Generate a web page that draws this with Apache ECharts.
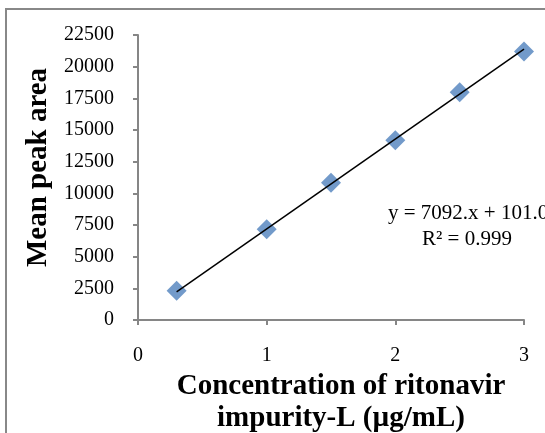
<!DOCTYPE html>
<html>
<head>
<meta charset="utf-8">
<script src="https://cdn.jsdelivr.net/npm/echarts@6/dist/echarts.min.js"></script>
<style>html,body{margin:0;padding:0;background:#fff;}#chart{width:545px;height:433px;}</style>
</head>
<body>
<div id="chart"></div>
<script>
var concentrations = [0.3, 1, 1.5, 2, 2.5, 3];
var peakAreas = [2300, 7160, 10840, 14200, 17980, 21200];
var trendSlope = 7092;
var trendIntercept = 101.0;
var trendX = [0.3, 3];
var yTicks = [0, 2500, 5000, 7500, 10000, 12500, 15000, 17500, 20000, 22500];
var xTicks = [0, 1, 2, 3];
var equationText = 'y = 7092.x + 101.0';
var r2Text = 'R² = 0.999';
var xTitle = 'Concentration of ritonavir\nimpurity-L (µg/mL)';
var yTitle = 'Mean peak area';

var serif = '"Liberation Serif", "Times New Roman", serif';
var chart = echarts.init(document.getElementById('chart'));
var trendData = trendX.map(function (x) { return [x, trendSlope * x + trendIntercept]; });
var option = {
  animation: false,
  grid: { left: 138, right: 21, top: 35, bottom: 113, containLabel: false, outerBoundsMode: 'none' },
  xAxis: {
    type: 'value', min: xTicks[0], max: xTicks[xTicks.length - 1], interval: 1,
    splitLine: { show: false },
    axisLine: { lineStyle: { color: '#868686', width: 2 } },
    axisTick: { show: true, length: 5, lineStyle: { color: '#868686', width: 2 } },
    axisLabel: { color: '#000', fontFamily: serif, fontSize: 20, margin: 26,
      formatter: function (v) { return String(v); } },
    name: xTitle, nameLocation: 'middle', nameGap: 49,
    nameTextStyle: { color: '#000', fontFamily: serif, fontSize: 29, fontWeight: 'bold', lineHeight: 32,
      padding: [0, 0, 0, 20] }
  },
  yAxis: {
    type: 'value', min: yTicks[0], max: yTicks[yTicks.length - 1], interval: 2500,
    splitLine: { show: false },
    axisLine: { show: true, lineStyle: { color: '#868686', width: 2 } },
    axisTick: { show: true, length: 5, lineStyle: { color: '#868686', width: 2 } },
    axisLabel: { color: '#000', fontFamily: serif, fontSize: 20, margin: 24,
      formatter: function (v) { return String(v); } },
    name: yTitle, nameLocation: 'middle', nameGap: 82,
    nameTextStyle: { color: '#000', fontFamily: serif, fontSize: 29, fontWeight: 'bold',
      padding: [0, 0, 0, 20] }
  },
  series: [
    {
      type: 'scatter', symbol: 'diamond', symbolSize: [20, 20],
      itemStyle: { color: '#4F81BD' },
      data: concentrations.map(function (x, i) { return [x, peakAreas[i]]; }),
      z: 2
    },
    {
      type: 'line', data: trendData, symbol: 'none',
      lineStyle: { color: '#000', width: 1.5 }, z: 3
    }
  ],
  graphic: [
    { type: 'rect', shape: { x: 6, y: 9, width: 700, height: 600 },
      style: { fill: 'none', stroke: '#888', lineWidth: 2 }, silent: true },
    { type: 'text', left: 388, top: 203,
      style: { text: equationText, font: '21px ' + serif, fill: '#000' } },
    { type: 'text', left: 422, top: 229,
      style: { text: r2Text, font: '21px ' + serif, fill: '#000' } }
  ]
};
chart.setOption(option);
</script>
</body>
</html>
